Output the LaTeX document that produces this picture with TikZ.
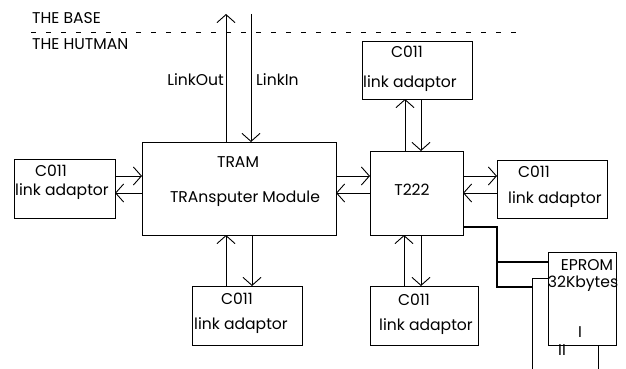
\documentclass[tikz,border=0pt]{standalone}
\usepackage{fontspec}
\setmainfont{Poppins}
\usetikzlibrary{arrows.meta}
\begin{document}
\begin{tikzpicture}[x=1pt,y=-1pt,
  box/.style={draw,line width=0.9pt,rectangle,inner sep=0pt,outer sep=0pt},
  lbl/.style={inner sep=0pt,anchor=base,font=\fontsize{15.6}{18}\selectfont},
  lblw/.style={lbl,anchor=base west},
  lble/.style={lbl,anchor=base east},
  wire/.style={line width=0.9pt},
  arr/.style={wire,-{Straight Barb[length=8pt,width=18pt,line width=0.9pt]}},
  thick wire/.style={line width=2.6pt}]
\useasboundingbox (0,0) rectangle (626,369);
% boxes
\node[box,minimum width=101pt,minimum height=59pt] (lc) at (64.5,188.5) {};
\node[box,minimum width=194pt,minimum height=93pt] (tram) at (239,188.5) {};
\node[box,minimum width=93pt,minimum height=84pt] (t222) at (416.5,193) {};
\node[box,minimum width=110pt,minimum height=58pt] (rc) at (552,189) {};
\node[box,minimum width=110pt,minimum height=58pt] (tc) at (417,70) {};
\node[box,minimum width=110pt,minimum height=59pt] (bc1) at (247,315.5) {};
\node[box,minimum width=108pt,minimum height=59pt] (bc2) at (424,315.5) {};
\node[box,minimum width=68pt,minimum height=93pt] (eprom) at (582,298.5) {};
% texts
\node[lblw] (tbase) at (32,24) {THE BASE};
\node[lblw] (thut) at (32,50) {THE HUTMAN};
\node[lble] (lout) at (224,85) {LinkOut};
\node[lblw] (lin) at (256,85) {LinkIn};
\node[lbl] (tramt) at (238,167) {TRAM};
\node[lbl] (tramm) at (245,202) {TRAnsputer Module};
\node[lbl] (t222t) at (412,195) {T222};
\node[lbl] (lca) at (51,176) {C011};
\node[lbl] (lcb) at (62,195) {link adaptor};
\node[lbl] (rca) at (534,177) {C011};
\node[lbl] (rcb) at (555,203) {link adaptor};
\node[lbl] (tca) at (407,58) {C011};
\node[lbl] (tcb) at (410,87) {link adaptor};
\node[lbl] (b1a) at (237,304) {C011};
\node[lbl] (b1b) at (241,329) {link adaptor};
\node[lbl] (b2a) at (414,305) {C011};
\node[lbl] (b2b) at (426,330) {link adaptor};
\node[lbl] (ept) at (587,270) {EPROM};
\node[lbl] (epk) at (583,287) {32Kbytes};
\node[lbl] (epi) at (580,337) {I};
\node[lbl] (epii) at (562,355) {II};
% dashed boundary
\coordinate (dl) at (31,32);
\coordinate (dr) at (522,32);
\draw[line width=0.8pt,dash pattern=on 5pt off 10pt] (dl) -- (dr);
% link out / link in
\coordinate (lotop) at (226,14);
\coordinate (litop) at (251,14);
\draw[arr] (tram.north -| lotop) -- (lotop);
\draw[arr] (litop) -- (tram.north -| litop);
% horizontal links
\draw[arr] (lc.east |- 0,176) -- (tram.west |- 0,176);
\draw[arr] (tram.west |- 0,193) -- (lc.east |- 0,193);
\draw[arr] (tram.east |- 0,176) -- (t222.west |- 0,176);
\draw[arr] (t222.west |- 0,193) -- (tram.east |- 0,193);
\draw[arr] (t222.east |- 0,176) -- (rc.west |- 0,176);
\draw[arr] (rc.west |- 0,193) -- (t222.east |- 0,193);
% vertical links
\draw[arr] (bc1.north -| 226,0) -- (tram.south -| 226,0);
\draw[arr] (tram.south -| 252,0) -- (bc1.north -| 252,0);
\draw[arr] (t222.north -| 405,0) -- (tc.south -| 405,0);
\draw[arr] (tc.south -| 421,0) -- (t222.north -| 421,0);
\draw[arr] (bc2.north -| 404,0) -- (t222.south -| 404,0);
\draw[arr] (t222.south -| 421,0) -- (bc2.north -| 421,0);
% EPROM buses
\coordinate (bj) at (497,262);
\coordinate (bk) at (532,287);
\draw[thick wire] (t222.east |- 0,227) -- (497,227) -- (497,287) -- (bk);
\draw[thick wire] (bj) -- (eprom.west |- bj);
\coordinate (wb1) at (532,369);
\coordinate (wb2) at (598,369);
\draw[wire] (wb1) -- (532,278) -- (eprom.west |- 0,278);
\draw[wire] (eprom.south -| wb2) -- (wb2);
\end{tikzpicture}
\end{document}
